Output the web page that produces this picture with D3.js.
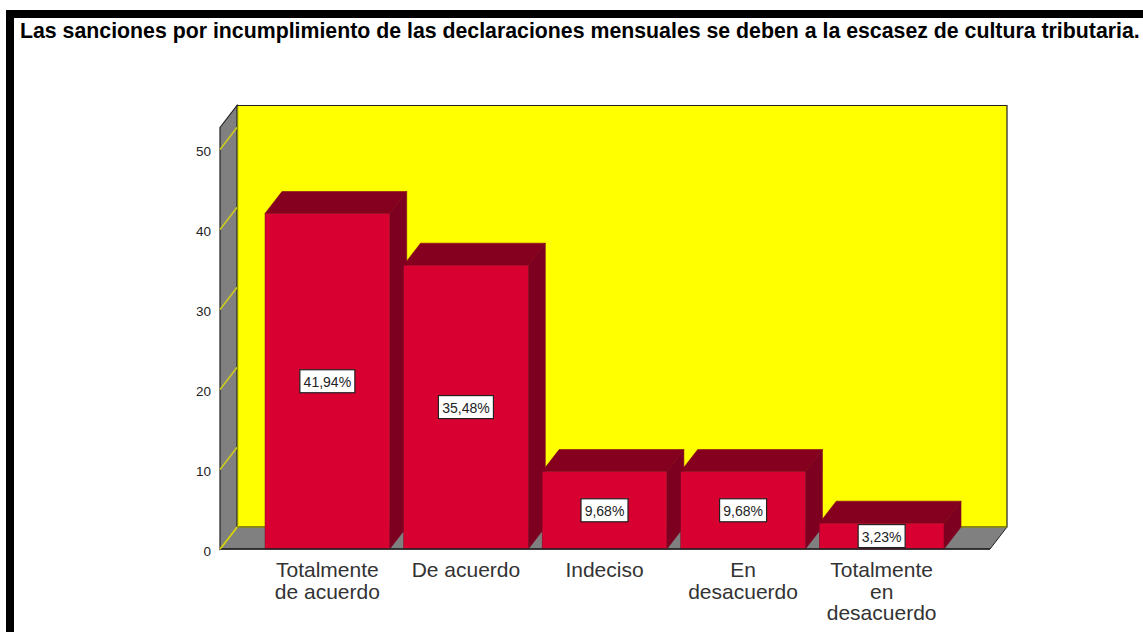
<!DOCTYPE html>
<html><head><meta charset="utf-8">
<script src="https://cdn.jsdelivr.net/npm/d3@7"></script>
<style>html,body{margin:0;padding:0;background:#fff;overflow:hidden}svg{display:block}text{font-family:"Liberation Sans",Arial,sans-serif}</style>
</head><body><svg id="c" width="1143" height="632"></svg>
<script>
const titleText = "Las sanciones por incumplimiento de las declaraciones mensuales se deben a la escasez de cultura tributaria.";
const categories = [["Totalmente","de acuerdo"],["De acuerdo"],["Indeciso"],["En","desacuerdo"],["Totalmente","en","desacuerdo"]];
const values = [41.94,35.48,9.68,9.68,3.23];
const valueLabels = ["41,94%","35,48%","9,68%","9,68%","3,23%"];
const yTicks = [0,10,20,30,40,50];

const svg = d3.select("#c");
const DX = 17, DY = -22;
const xL = 220, xR = 990, yBase = 549, yTopFront = 127.5;
const y = d3.scaleLinear().domain([0,50]).range([yBase,149]);
const x = d3.scaleBand().domain(d3.range(values.length)).range([265,944]).paddingInner(0.1);
const poly = pts => pts.map(p=>p.join(",")).join(" ");

// frame
svg.append("rect").attr("x",6).attr("y",10).attr("width",1137).attr("height",8).attr("fill","#000");
svg.append("rect").attr("x",6).attr("y",10).attr("width",8).attr("height",622).attr("fill","#000");
svg.append("text").attr("x",20).attr("y",38).attr("font-size",21.3).attr("font-weight","bold").attr("fill","#000").text(titleText);

// back wall, side wall, floor
svg.append("polygon").attr("points",poly([[xL+DX,yTopFront+DY],[xR+DX,yTopFront+DY],[xR+DX,yBase+DY],[xL+DX,yBase+DY]]))
  .attr("fill","#ffff00").attr("stroke","#222").attr("stroke-width",1.2);
svg.append("polygon").attr("points",poly([[xL,yTopFront],[xL+DX,yTopFront+DY],[xL+DX,yBase+DY],[xL,yBase]]))
  .attr("fill","#808080").attr("stroke","#222").attr("stroke-width",1.2);
svg.append("polygon").attr("points",poly([[xL,yBase],[xL+DX,yBase+DY],[xR+DX,yBase+DY],[xR,yBase]]))
  .attr("fill","#808080").attr("stroke","#222").attr("stroke-width",1);
svg.append("line").attr("x1",xL+DX).attr("x2",xR+DX).attr("y1",yBase+DY).attr("y2",yBase+DY).attr("stroke","#b8b800").attr("stroke-width",1);
svg.append("line").attr("x1",xL+DX+1).attr("x2",xL+DX+1).attr("y1",yTopFront+DY+1).attr("y2",yBase+DY).attr("stroke","#c8c800").attr("stroke-width",1);

// y axis
const axis = d3.axisLeft(y).tickValues(yTicks).tickSize(0).tickPadding(9);
const ga = svg.append("g").attr("transform",`translate(${xL},0)`).call(axis);
ga.select(".domain").remove();
ga.selectAll("text").attr("font-size",13.5).attr("fill","#222").attr("dy","0.5em").style("font-family",'"Liberation Sans",Arial,sans-serif');
ga.selectAll(".tick").append("line").attr("x1",0).attr("y1",0).attr("x2",DX).attr("y2",DY).attr("stroke","#d4d410").attr("stroke-width",1.3);

// bars
const barStroke = "#7a0a28";
values.forEach((v,i)=>{
  const a = x(i), b = a + x.bandwidth(), t = y(v), g = svg.append("g");
  g.append("polygon").attr("points",poly([[a,t],[a+DX,t+DY],[b+DX,t+DY],[b,t]])).attr("fill","#85001e").attr("stroke","#85001e").attr("stroke-width",.6);
  g.append("polygon").attr("points",poly([[b,t],[b+DX,t+DY],[b+DX,yBase+DY],[b,yBase]])).attr("fill","#7d0020").attr("stroke","#7d0020").attr("stroke-width",.6);
  g.append("rect").attr("x",a).attr("y",t).attr("width",x.bandwidth()).attr("height",yBase-t).attr("fill","#d80030").attr("stroke",barStroke).attr("stroke-width",.5);
});

// baseline
svg.append("line").attr("x1",xL).attr("x2",xR).attr("y1",yBase).attr("y2",yBase).attr("stroke","#222").attr("stroke-width",1.4);
svg.append("line").attr("x1",xL).attr("x2",xL+DX).attr("y1",yBase).attr("y2",yBase+DY).attr("stroke","#d4d410").attr("stroke-width",1.3);

// value labels
values.forEach((v,i)=>{
  const cx = x(i)+x.bandwidth()/2, cy = (y(v)+yBase)/2;
  const w = i<2?55:47;
  svg.append("rect").attr("x",cx-w/2).attr("y",cy-11.5).attr("width",w).attr("height",23).attr("fill","#fff").attr("stroke","#222").attr("stroke-width",1.2);
  svg.append("text").attr("x",cx).attr("y",cy+5.5).attr("text-anchor","middle").attr("font-size",14).attr("fill","#222").text(valueLabels[i]);
});

// category labels
categories.forEach((lines,i)=>{
  const t = svg.append("text").attr("text-anchor","middle").attr("font-size",21).attr("fill","#333");
  lines.forEach((l,j)=>t.append("tspan").attr("x",x(i)+x.bandwidth()/2).attr("y",577+j*21.5).text(l));
});
</script></body></html>
